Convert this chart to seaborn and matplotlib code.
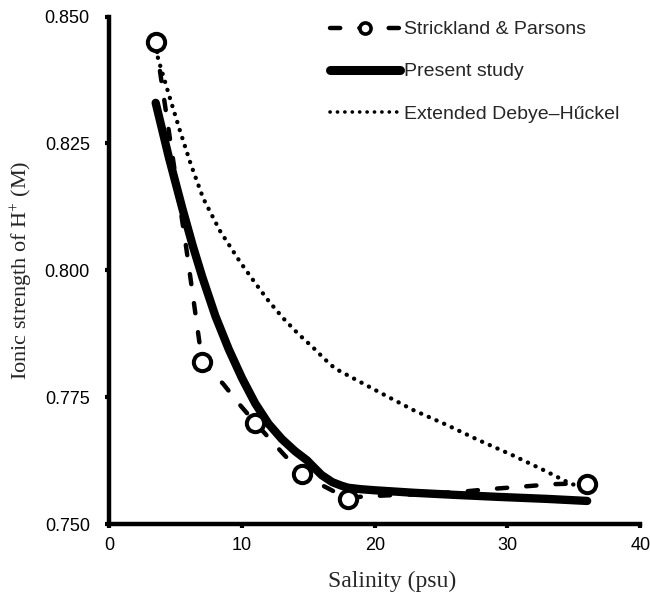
import numpy as np
import pandas as pd
import matplotlib
matplotlib.use("Agg")
import matplotlib.pyplot as plt
from matplotlib.lines import Line2D
import seaborn as sns

# Strickland & Parsons measured points
sp_x = [3.5, 7.0, 11.0, 14.5, 18.0, 36.0]
sp_y = [0.845, 0.782, 0.770, 0.760, 0.755, 0.758]

# Strickland & Parsons connecting curve
sp_curve_x = [3.5, 4.6, 5.8, 7.0, 8.0, 8.6, 9.85, 11.0, 13.1, 14.5, 15.5, 16.4, 17.2, 18.0, 19.3, 21.0, 23.0, 26.5, 28.5, 31.0, 33.4, 36.0]
sp_curve_y = [0.845, 0.8255, 0.8045, 0.782, 0.7793, 0.7776, 0.7735, 0.770, 0.7639, 0.760, 0.7584, 0.7572, 0.7561, 0.7552, 0.7555, 0.7557, 0.7559, 0.7564, 0.7569, 0.7574, 0.7579, 0.7581]

# Present study curve
ps_x = [3.5, 4.5, 5.5, 6.3, 7.0, 8.0, 9.0, 10.0, 11.0, 12.0, 13.0, 14.0, 14.9, 15.5, 16.0, 16.8, 17.5, 18.0, 19.0, 20.0, 23.0, 26.0, 29.3, 33.0, 36.0]
ps_y = [0.833, 0.8222, 0.8123, 0.8048, 0.7988, 0.7910, 0.7845, 0.7788, 0.7738, 0.7698, 0.7668, 0.7644, 0.7626, 0.7610, 0.7597, 0.7583, 0.7576, 0.7572, 0.7569, 0.7567, 0.7562, 0.7558, 0.7554, 0.7550, 0.7546]

# Extended Debye-Hückel curve
dh_x = [3.5, 3.75, 4.52, 5.33, 6.16, 7.08, 8.34, 9.85, 11.0, 12.0, 13.1, 14.2, 15.4, 16.2, 17.0, 18.14, 20.5, 22.9, 25.4, 27.8, 30.3, 32.7, 34.6, 36.0]
dh_y = [0.8435, 0.8411, 0.8344, 0.8275, 0.8208, 0.8142, 0.8078, 0.8017, 0.7975, 0.7940, 0.7906, 0.7876, 0.7847, 0.7826, 0.7807, 0.7791, 0.7758, 0.7725, 0.7696, 0.7666, 0.7637, 0.7607, 0.7582, 0.7568]

x_ticks = [0, 10, 20, 30, 40]
y_ticks = [0.750, 0.775, 0.800, 0.825, 0.850]
y_tick_labels = ["0.750", "0.775", "0.800", "0.825", "0.850"]
legend_labels = ["Strickland & Parsons", "Present study", "Extended Debye\u2013H\u0171ckel"]

sns.set_style("ticks")
plt.rcParams['font.family'] = ['Liberation Sans', 'DejaVu Sans']
plt.rcParams['mathtext.fontset'] = 'custom'
plt.rcParams['mathtext.rm'] = 'Liberation Serif'
plt.rcParams['mathtext.it'] = 'Liberation Serif:italic'
plt.rcParams['mathtext.bf'] = 'Liberation Serif:bold'

fig = plt.figure(figsize=(6.5, 5.96), dpi=100)
ax = fig.add_axes([0.168, 0.1203, 0.817, 0.852])

sp_curve = pd.DataFrame({"x": sp_curve_x, "y": sp_curve_y})
ps_df = pd.DataFrame({"x": ps_x, "y": ps_y})
dh_df = pd.DataFrame({"x": dh_x, "y": dh_y})
sp_df = pd.DataFrame({"x": sp_x, "y": sp_y})

sns.lineplot(data=dh_df, x="x", y="y", ax=ax, sort=False, estimator=None,
             color="black", linewidth=3.1, zorder=2,
             linestyle=(0, (0.05, 1.9)), dash_capstyle="round", solid_joinstyle="round")
sns.lineplot(data=sp_curve, x="x", y="y", ax=ax, sort=False, estimator=None,
             color="black", linewidth=3.2, zorder=3,
             linestyle=(0, (2.3, 4.3)), dash_capstyle="round", dash_joinstyle="round")
sns.lineplot(data=ps_df, x="x", y="y", ax=ax, sort=False, estimator=None,
             color="black", linewidth=6.0, zorder=4, solid_capstyle="round",
             solid_joinstyle="round")
sns.scatterplot(data=sp_df, x="x", y="y", ax=ax, s=155, facecolor="white",
                edgecolor="black", linewidth=2.9, zorder=5)

ax.set_xlim(0, 40)
ax.set_ylim(0.750, 0.850)
ax.set_xticks(x_ticks)
ax.set_yticks(y_ticks)
ax.set_yticklabels(y_tick_labels)
ax.tick_params(axis="both", direction="out", length=3, width=3,
               labelsize=13, colors="black")
ax.tick_params(axis="y", pad=11)
ax.tick_params(axis="x", pad=6)
for s in ["top", "right"]:
    ax.spines[s].set_visible(False)
for s in ["left", "bottom"]:
    ax.spines[s].set_linewidth(3.2)
    ax.spines[s].set_color("black")

ax.set_xlabel("Salinity (psu)", fontsize=17, family=["Liberation Serif", "DejaVu Serif"])
ax.xaxis.set_label_coords(0.533, -0.092)
ax.set_ylabel("Ionic strength of H$^{+}$ (M)", fontsize=16,
              family=["Liberation Serif", "DejaVu Serif"], labelpad=7)

handles = [
    Line2D([], [], color="black", linewidth=3.2, linestyle=(0, (2.3, 4.3)),
           dash_capstyle="round", marker="o", markersize=8,
           markerfacecolor="white", markeredgewidth=2.6),
    Line2D([], [], color="black", linewidth=6.5, solid_capstyle="round"),
    Line2D([], [], color="black", linewidth=2.6, linestyle=(0, (0.05, 2.0)),
           dash_capstyle="round"),
]
leg = ax.legend(handles, legend_labels, loc="upper left",
                bbox_to_anchor=(322 / 650, 1 - 13 / 596),
                bbox_transform=fig.transFigure,
                frameon=False, fontsize=14, handlelength=3.6, handletextpad=0.2,
                labelspacing=1.26, borderaxespad=0)

fig.savefig("out.png", dpi=100)
